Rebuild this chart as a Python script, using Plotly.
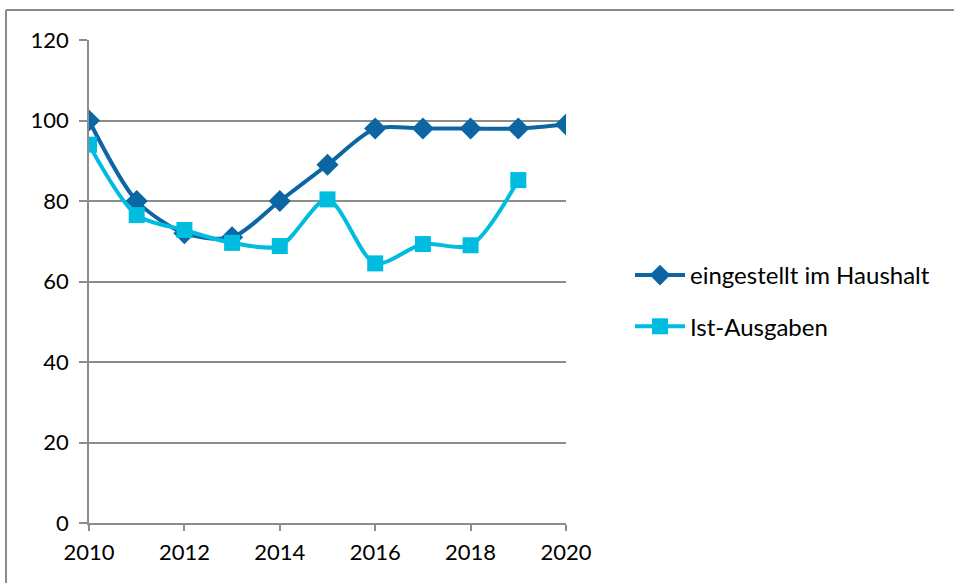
import plotly.graph_objects as go

years = [2010, 2011, 2012, 2013, 2014, 2015, 2016, 2017, 2018, 2019, 2020]
eingestellt = [100, 80, 72, 71, 80, 89, 98, 98, 98, 98, 99]
ist_years = [2010, 2011, 2012, 2013, 2014, 2015, 2016, 2017, 2018, 2019]
ist_ausgaben = [94, 76.5, 72.8, 69.6, 68.8, 80.4, 64.5, 69.3, 69, 85.2]
x_ticks = [2010, 2012, 2014, 2016, 2018, 2020]
y_ticks = [0, 20, 40, 60, 80, 100, 120]

W, H = 954, 583
L, R, T, B = 89, 388, 40, 60
pw, ph = W - L - R, H - T - B

DARK = "#0C66A3"
CYAN = "#00BDE0"
GRID = "#8C8C8C"
FONT = "Lato"

fig = go.Figure()
fig.add_trace(go.Scatter(
    x=years, y=eingestellt, name="eingestellt im Haushalt", legendgroup="a",
    mode="lines+markers",
    line=dict(color=DARK, width=4, shape="spline", smoothing=0.8),
    marker=dict(symbol="diamond", size=17, color=DARK),
))
fig.add_trace(go.Scatter(
    x=ist_years, y=ist_ausgaben, name="Ist-Ausgaben", legendgroup="b",
    mode="lines+markers",
    line=dict(color=CYAN, width=4, shape="spline", smoothing=0.8),
    marker=dict(symbol="square", size=16, color=CYAN),
))

def px_x(p):
    return (p - L) / pw

def px_y(p):
    return (H - B - p) / ph

# chart-area border (only top and left visible in the crop)
fig.add_shape(type="line", xref="paper", yref="paper",
              x0=px_x(6), x1=px_x(954), y0=px_y(10), y1=px_y(10),
              line=dict(color=GRID, width=2))
fig.add_shape(type="line", xref="paper", yref="paper",
              x0=px_x(6), x1=px_x(6), y0=px_y(10), y1=px_y(583),
              line=dict(color=GRID, width=2))

fig.update_layout(
    width=W, height=H,
    margin=dict(l=L, r=R, t=T, b=B),
    paper_bgcolor="white", plot_bgcolor="white",
    font=dict(family=FONT, size=22, color="#000000"),
    showlegend=True,
    legend=dict(x=px_x(630), y=px_y(301), xanchor="left", yanchor="middle",
                font=dict(family=FONT, size=24, color="#000000"),
                tracegroupgap=17, itemwidth=50, bgcolor="rgba(0,0,0,0)"),
)
fig.update_xaxes(
    range=[2010, 2020], tickvals=x_ticks, ticktext=[str(v) for v in x_ticks],
    showgrid=False, zeroline=False,
    showline=True, linecolor=GRID, linewidth=1.5,
    ticks="outside", ticklen=6, tickcolor=GRID, tickwidth=1.5,
    tickfont=dict(family=FONT, size=22), ticklabelstandoff=3,
)
fig.update_yaxes(
    range=[0, 120], tickvals=y_ticks,
    showgrid=True, gridcolor=GRID, gridwidth=1.5, zeroline=False,
    showline=True, linecolor=GRID, linewidth=1.5,
    ticks="outside", ticklen=8, tickcolor=GRID, tickwidth=1.5,
    tickfont=dict(family=FONT, size=22), ticklabelstandoff=6,
)

fig.write_html(
    "out.html",
    config={"displayModeBar": False},
    post_script="document.body.style.margin='0';document.body.style.overflow='hidden';",
)
